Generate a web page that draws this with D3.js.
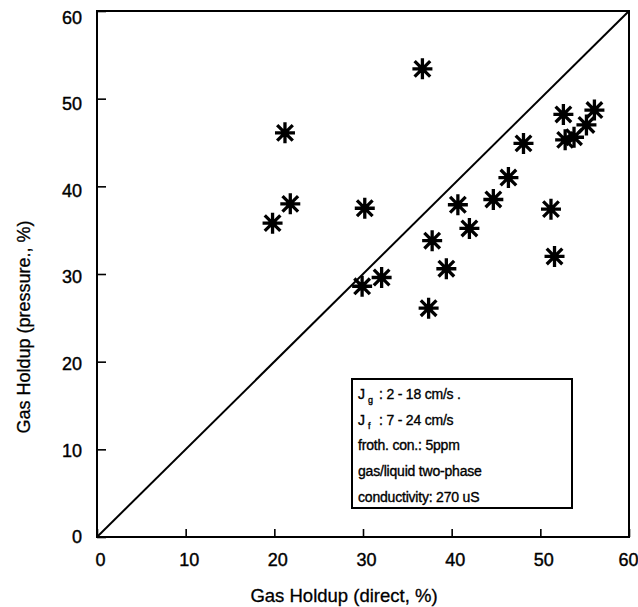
<!DOCTYPE html>
<html>
<head>
<meta charset="utf-8">
<script src="https://cdn.jsdelivr.net/npm/d3@7"></script>
<style>
  body { margin: 0; background: #fff; }
  svg { display: block; }
  text { font-family: "Liberation Sans", Arial, sans-serif; fill: #000; }
</style>
</head>
<body>
<svg id="chart" width="638" height="607"></svg>
<script>
// gas holdup, direct measurement vs. from pressure (%)
var holdupDirect   = [19.8, 21.2, 21.8, 29.9, 30.2, 32.1, 36.7, 37.4, 37.8, 39.4, 40.7,
                      42.0, 44.7, 46.4, 48.1, 51.2, 51.6, 52.6, 52.8, 53.8, 55.2, 56.1];
var holdupPressure = [35.8, 46.1, 38.0, 28.6, 37.5, 29.6, 53.4, 26.1, 33.8, 30.6, 37.9,
                      35.2, 38.5, 41.0, 44.9, 37.4, 32.0, 48.2, 45.3, 45.6, 47.0, 48.7];

var xTicks = [0, 10, 20, 30, 40, 50, 60];
var yTicks = [0, 10, 20, 30, 40, 50, 60];

var xTitle = "Gas Holdup (direct, %)";
var yTitle = "Gas Holdup (pressure., %)";

// conditions box text (sub = subscript after the first letter)
var noteLines = [
  { head: "J", sub: "g", tail: ": 2 - 18 cm/s ." },
  { head: "J", sub: "f", tail: ": 7 - 24 cm/s" },
  { head: "froth. con.: 5ppm" },
  { head: "gas/liquid two-phase" },
  { head: "conductivity: 270 uS" }
];

function drawChart() {
  var svg = d3.select("#chart");
  var m = { left: 97, top: 11, right: 629, bottom: 537 };

  var x = d3.scaleLinear().domain([0, 60]).range([m.left, m.right]);
  var y = d3.scaleLinear().domain([0, 60]).range([m.bottom, m.top]);

  // axes, ticks pointing inward
  var xAxis = svg.append("g")
    .attr("transform", "translate(0," + m.bottom + ")")
    .call(d3.axisBottom(x).tickValues(xTicks).tickSizeInner(-8).tickSizeOuter(0).tickPadding(16));
  var yAxis = svg.append("g")
    .attr("transform", "translate(" + m.left + ",0)")
    .call(d3.axisLeft(y).tickValues(yTicks).tickSizeInner(-9).tickSizeOuter(0).tickPadding(15));

  [xAxis, yAxis].forEach(function (g) {
    g.select(".domain").remove();
    g.selectAll(".tick line").attr("stroke", "#000").attr("stroke-width", 1.6);
    g.selectAll(".tick text")
      .style("font-size", "18px")
      .attr("fill", "#000")
      .attr("stroke", "#000")
      .attr("stroke-width", 0.4);
  });
  xAxis.selectAll(".tick text").attr("dx", function (d) { return d == 60 ? -1 : 3; });
  yAxis.selectAll(".tick text").attr("dy", function (d) { return (0.32 + d / 60 * 0.35) + "em"; });

  // frame
  svg.append("rect")
    .attr("x", m.left).attr("y", m.top)
    .attr("width", m.right - m.left).attr("height", m.bottom - m.top)
    .attr("fill", "none").attr("stroke", "#000").attr("stroke-width", 2);

  // 1:1 line
  svg.append("line")
    .attr("x1", x(0)).attr("y1", y(0))
    .attr("x2", x(60)).attr("y2", y(60))
    .attr("stroke", "#000").attr("stroke-width", 2);

  // asterisk markers
  var star = "M-10,0H10M0,-10.5V10.5M-7.8,-7.8L7.8,7.8M-7.8,7.8L7.8,-7.8";
  var pts = svg.append("g").selectAll("g")
    .data(holdupDirect.map(function (v, i) { return { x: v, y: holdupPressure[i] }; }))
    .enter()
    .append("g")
    .attr("transform", function (d) { return "translate(" + x(d.x) + "," + y(d.y) + ")"; });
  pts.append("path")
    .attr("d", star)
    .attr("fill", "none").attr("stroke", "#000").attr("stroke-width", 3.3);
  pts.append("circle").attr("r", 4).attr("fill", "#000");

  // conditions box
  svg.append("rect")
    .attr("x", 352).attr("y", 379)
    .attr("width", 220).attr("height", 129)
    .attr("fill", "#fff").attr("stroke", "#000").attr("stroke-width", 2);

  var note = svg.append("g").selectAll("text")
    .data(noteLines)
    .enter()
    .append("text")
    .attr("x", 358)
    .attr("y", function (d, i) { return 399 + i * 25.7; })
    .style("font-size", "14px")
    .style("letter-spacing", "-0.2px")
    .attr("stroke", "#000").attr("stroke-width", 0.35);
  note.each(function (d) {
    var t = d3.select(this);
    t.append("tspan").text(d.head);
    if (d.sub) {
      t.append("tspan").attr("x", 368).attr("dy", 4).style("font-size", "9px").text(d.sub);
      t.append("tspan").attr("x", 379).attr("dy", -4).text(d.tail);
    }
  });

  // axis titles
  svg.append("text")
    .attr("x", 344).attr("y", 602)
    .attr("text-anchor", "middle")
    .style("font-size", "18.5px")
    .attr("stroke", "#000").attr("stroke-width", 0.3)
    .text(xTitle);

  svg.append("text")
    .attr("transform", "translate(30,327) rotate(-90)")
    .attr("text-anchor", "middle")
    .style("font-size", "18px")
    .attr("stroke", "#000").attr("stroke-width", 0.3)
    .text(yTitle);
}
drawChart();
</script>
</body>
</html>
